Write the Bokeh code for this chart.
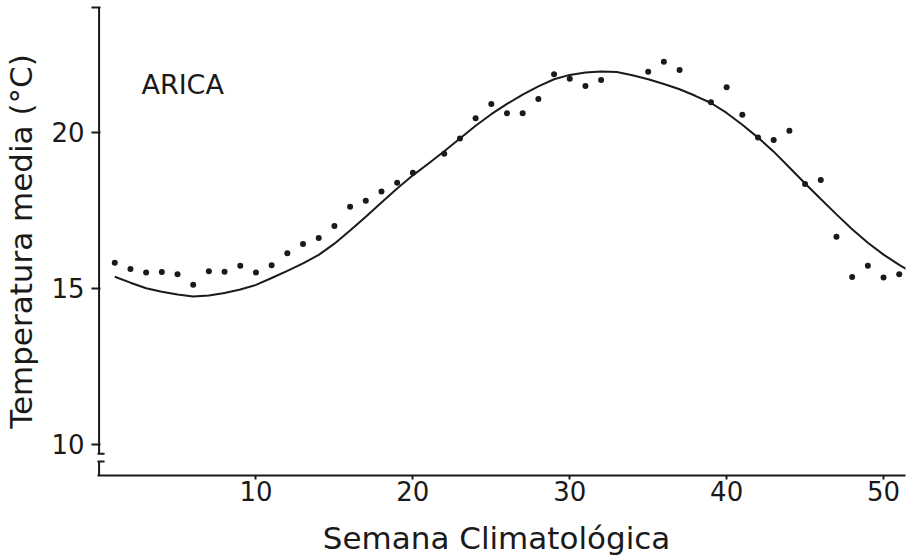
from bokeh.plotting import figure
from bokeh.models import FixedTicker, Label, Range1d
from bokeh.embed import file_html
from bokeh.resources import INLINE

# ---- data ----
OBS_WEEKS = [1, 2, 3, 4, 5, 6, 7, 8, 9, 10, 11, 12, 13, 14, 15, 16, 17, 18, 19, 20,
             22, 23, 24, 25, 26, 27, 28, 29, 30, 31, 32, 35, 36, 37,
             39, 40, 41, 42, 43, 44, 45, 46, 47, 48, 49, 50, 51]
OBS_TEMP = [15.82, 15.62, 15.51, 15.52, 15.45, 15.11, 15.55, 15.53, 15.72, 15.51,
            15.74, 16.12, 16.42, 16.61, 17.00, 17.61, 17.81, 18.10, 18.38, 18.70,
            19.31, 19.80, 20.45, 20.91, 20.61, 20.61, 21.07, 21.86, 21.72, 21.48,
            21.68, 21.94, 22.26, 22.00,
            20.96, 21.44, 20.56, 19.83, 19.75, 20.05, 18.34, 18.47, 16.65, 15.36,
            15.72, 15.35, 15.45]

FIT_WEEKS = list(range(1, 53))
FIT_TEMP = [15.37, 15.18, 15.00, 14.89, 14.80, 14.74, 14.77, 14.85, 14.96, 15.11,
            15.33, 15.56, 15.80, 16.07, 16.43, 16.85, 17.29, 17.75, 18.20, 18.62,
            19.00, 19.39, 19.80, 20.21, 20.58, 20.91, 21.21, 21.47, 21.70, 21.84,
            21.92, 21.95, 21.93, 21.83, 21.70, 21.55, 21.38, 21.17, 20.94, 20.62,
            20.24, 19.83, 19.38, 18.87, 18.36, 17.86, 17.37, 16.89, 16.46, 16.08,
            15.75, 15.45]

X_TICKS = [10, 20, 30, 40, 50]
Y_TICKS = [10, 15, 20, 24]
Y_TICK_LABELS = {10: "10", 15: "15", 20: "20", 24: ""}
X_TITLE = "Semana  Climatológica"
Y_TITLE = "Temperatura media (°C)"
STATION = "ARICA"
STATION_POS = (2.7, 21.53)

X_RANGE = (-0.1, 51.4)
Y_RANGE = (9.0, 24.0)
Y_BREAK = (9.45, 9.7)   # gap in the y axis line
AXIS_X = 0.0

INK = "#1a1a1a"
FONT = "DejaVu Sans"

p = figure(width=907, height=559,
           x_range=Range1d(*X_RANGE), y_range=Range1d(*Y_RANGE),
           output_backend="svg", toolbar_location=None,
           min_border_left=97, min_border_right=2,
           min_border_top=7, min_border_bottom=84)

p.background_fill_color = "white"
p.border_fill_color = "white"
p.outline_line_color = None
p.grid.grid_line_color = None

# x axis
xa = p.xaxis[0]
xa.ticker = FixedTicker(ticks=X_TICKS)
xa.axis_line_width = 2
xa.axis_line_color = INK
xa.major_tick_line_color = INK
xa.major_tick_line_width = 2
xa.major_tick_out = 4
xa.major_tick_in = 0
xa.minor_tick_line_color = None
xa.major_label_text_font = FONT
xa.major_label_text_font_size = "26px"
xa.major_label_text_color = INK
xa.major_label_standoff = 1
xa.axis_label = X_TITLE
xa.axis_label_text_font = FONT
xa.axis_label_text_font_size = "31px"
xa.axis_label_text_font_style = "normal"
xa.axis_label_text_color = INK
xa.axis_label_standoff = 16

# y axis (line drawn below with a break)
ya = p.yaxis[0]
ya.ticker = FixedTicker(ticks=Y_TICKS)
ya.major_label_overrides = Y_TICK_LABELS
ya.axis_line_color = None
ya.major_tick_line_color = INK
ya.major_tick_line_width = 2
ya.major_tick_out = 6
ya.major_tick_in = 3
ya.minor_tick_line_color = None
ya.major_label_text_font = FONT
ya.major_label_text_font_size = "26px"
ya.major_label_text_color = INK
ya.major_label_standoff = 7
ya.axis_label = Y_TITLE
ya.axis_label_text_font = FONT
ya.axis_label_text_font_size = "31px"
ya.axis_label_text_font_style = "normal"
ya.axis_label_text_color = INK
ya.axis_label_standoff = 9

# broken y axis line with caps
p.segment(x0=[AXIS_X, AXIS_X], y0=[Y_RANGE[1], Y_BREAK[0]],
          x1=[AXIS_X, AXIS_X], y1=[Y_BREAK[1], Y_RANGE[0]],
          line_color=INK, line_width=2)
p.segment(x0=[AXIS_X - 0.2, AXIS_X - 0.2], y0=[Y_BREAK[1], Y_BREAK[0]],
          x1=[AXIS_X + 0.35, AXIS_X + 0.35], y1=[Y_BREAK[1], Y_BREAK[0]],
          line_color=INK, line_width=2)

# fitted curve and weekly means
p.line(FIT_WEEKS, FIT_TEMP, line_color=INK, line_width=2)
p.scatter(OBS_WEEKS, OBS_TEMP, size=6, fill_color=INK, line_color=None)

p.add_layout(Label(x=STATION_POS[0], y=STATION_POS[1], text=STATION,
                   text_font=FONT, text_font_size="27px", text_color=INK,
                   text_align="left", text_baseline="middle"))

open("out.html", "w").write(file_html(p, INLINE))
